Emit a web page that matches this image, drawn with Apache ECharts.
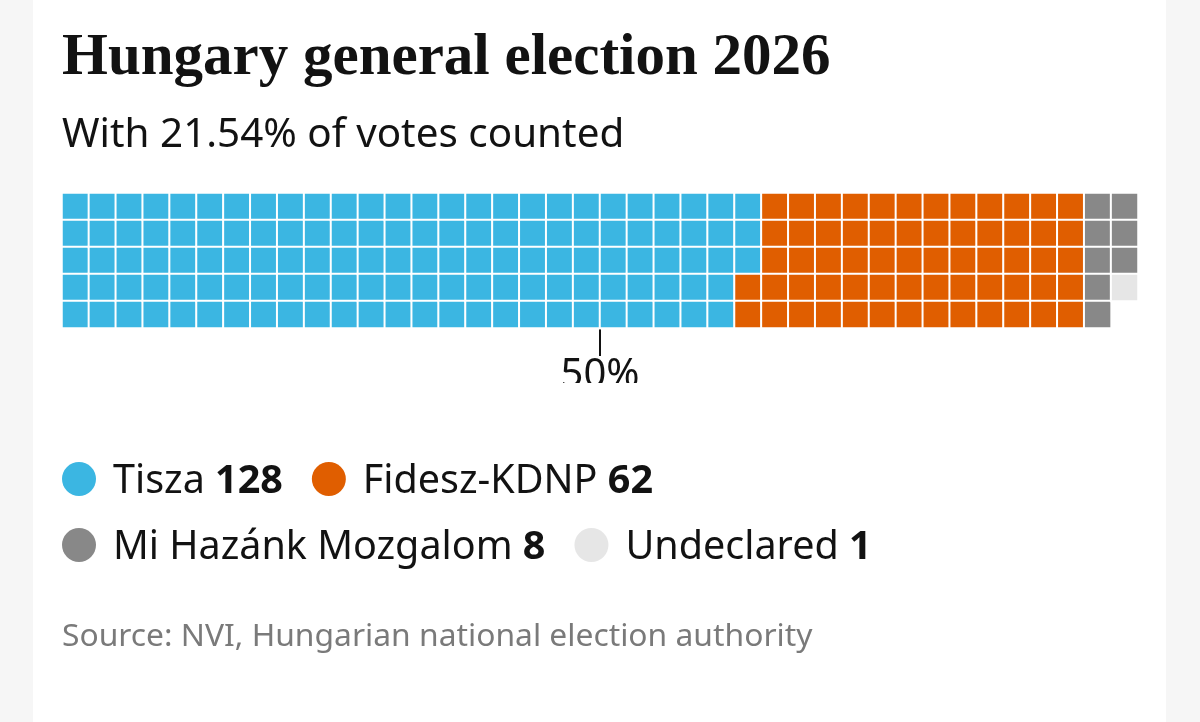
<!DOCTYPE html>
<html>
<head>
<meta charset="utf-8">
<title>Hungary general election 2026</title>
<style>
html,body{margin:0;padding:0;background:#f6f6f6;}
#main{width:1200px;height:722px;}
</style>
<script src="https://cdn.jsdelivr.net/npm/echarts@6/dist/echarts.min.js"></script>
</head>
<body>
<div id="main"></div>
<script>
var parties = ['Tisza', 'Fidesz-KDNP', 'Mi Hazánk Mozgalom', 'Undeclared'];
var seats = [128, 62, 8, 1];
var colors = ['#3bb6e2', '#e05e00', '#888888', '#e6e6e6'];
var rowCount = 5;
var columnCount = 40;
var majorityColumn = 20;
var majorityLabel = '50%';

var sans = '"Noto Sans", sans-serif';

// seats fill the grid column by column, top row first
var seatNo = 0;
var series = parties.map(function (name, p) {
    var cells = [];
    for (var i = 0; i < seats[p]; i++) {
        cells.push([Math.floor(seatNo / rowCount), seatNo % rowCount, 1]);
        seatNo++;
    }
    return {
        name: name,
        type: 'heatmap',
        xAxisIndex: 0,
        yAxisIndex: 0,
        data: cells,
        itemStyle: {color: colors[p], borderColor: '#fff', borderWidth: 2},
        emphasis: {disabled: true}
    };
});

function range(n) {
    var a = [];
    for (var i = 0; i < n; i++) a.push(i);
    return a;
}

function legendText(name) {
    return '{n|' + name + ' }{b|' + seats[parties.indexOf(name)] + '}';
}

var legendBase = {
    orient: 'horizontal',
    icon: 'circle',
    padding: 0,
    itemWidth: 34,
    itemHeight: 34,
    itemGap: 29,
    selectedMode: false,
    formatter: legendText,
    itemStyle: {borderWidth: 0},
    textStyle: {
        padding: [6, 0, 0, 12],
        rich: {
            n: {fontFamily: sans, fontSize: 39.5, color: '#121212'},
            b: {fontFamily: sans, fontSize: 39.5, fontWeight: 'bold', color: '#121212'}
        }
    }
};

var chart = echarts.init(document.getElementById('main'));
chart.setOption({
    animation: false,
    backgroundColor: '#f6f6f6',
    title: [
        {
            text: 'Hungary general election 2026',
            left: 62,
            top: 29,
            padding: 0,
            textStyle: {fontFamily: '"Liberation Serif", serif', fontSize: 59, fontWeight: 'bold', color: '#121212'}
        },
        {
            text: 'With 21.54% of votes counted',
            left: 62,
            top: 115,
            padding: 0,
            textStyle: {fontFamily: sans, fontSize: 40.4, fontWeight: 'normal', color: '#121212'}
        },
        {
            text: 'Source: NVI, Hungarian national election authority',
            left: 62,
            top: 621,
            padding: 0,
            textStyle: {fontFamily: sans, fontSize: 31.8, fontWeight: 'normal', color: '#7a7a7a'}
        }
    ],
    legend: [
        Object.assign({}, legendBase, {left: 62, top: 462, data: parties.slice(0, 2)}),
        Object.assign({}, legendBase, {left: 62, top: 528, data: parties.slice(2)})
    ],
    grid: {left: 62, top: 193, width: 1076, height: 135},
    xAxis: [
        {type: 'category', data: range(columnCount), show: false},
        {
            type: 'value',
            position: 'bottom',
            min: 0,
            max: columnCount,
            axisLine: {show: false},
            splitLine: {show: false},
            axisTick: {
                show: true,
                length: 28,
                customValues: [majorityColumn],
                lineStyle: {color: '#121212', width: 2}
            },
            axisLabel: {
                show: true,
                customValues: [majorityColumn],
                margin: 28,
                formatter: function () { return majorityLabel; },
                fontFamily: sans,
                fontSize: 40,
                color: '#121212'
            }
        }
    ],
    yAxis: {type: 'category', data: range(rowCount), inverse: true, show: false},
    series: series,
    graphic: [
        {type: 'rect', z: -10, silent: true, shape: {x: 33, y: 0, width: 1133, height: 722}, style: {fill: '#fff'}},
        {type: 'rect', z: 100, silent: true, shape: {x: 540, y: 383, width: 120, height: 30}, style: {fill: '#fff'}}
    ]
});
</script>
</body>
</html>
